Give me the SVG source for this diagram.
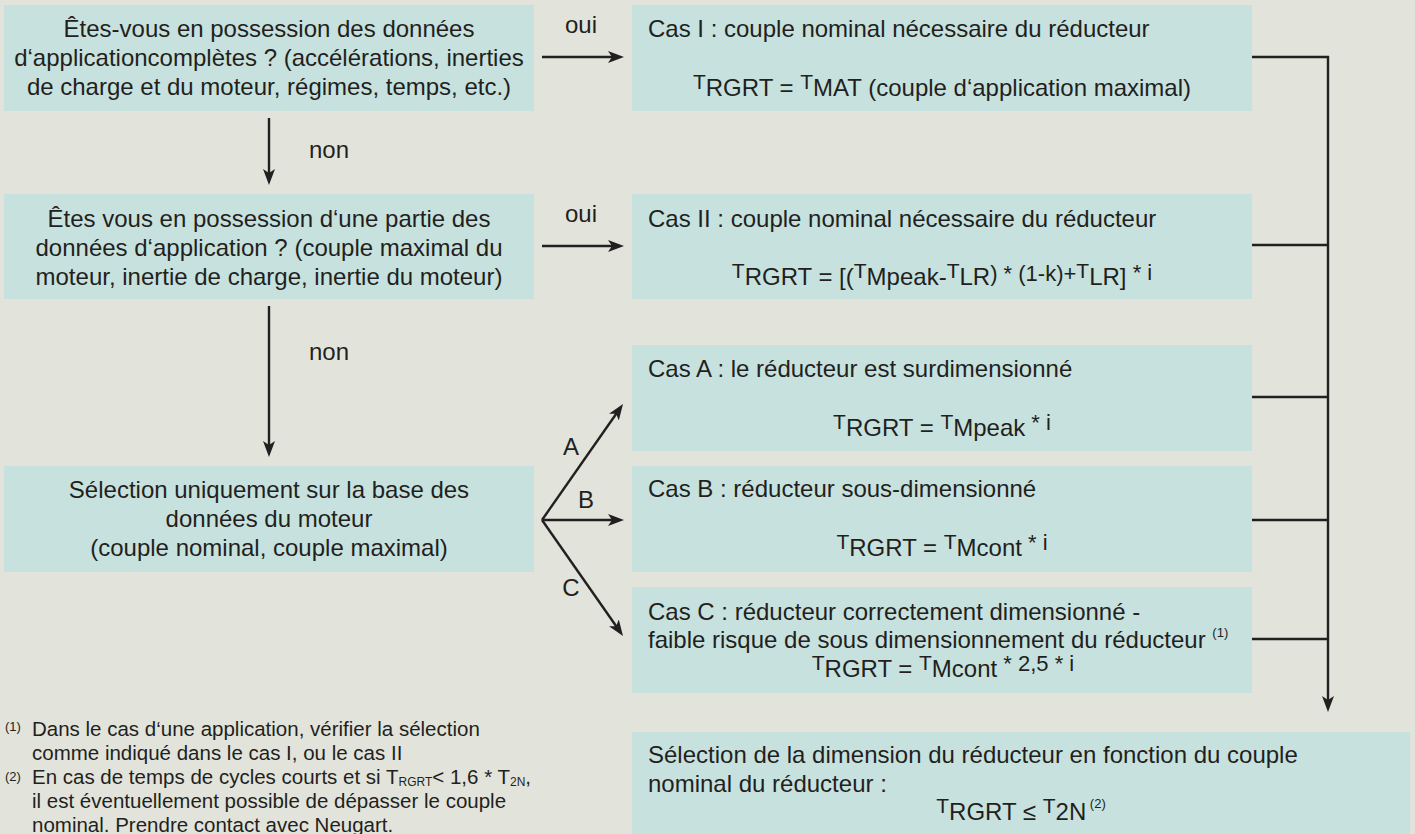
<svg xmlns="http://www.w3.org/2000/svg" width="1415" height="834" viewBox="0 0 1415 834">
<defs>
<style>
text{font-family:"Liberation Sans",Arial,Helvetica,sans-serif;fill:#231f20;font-size:24px}
.c{text-anchor:middle}
.box{fill:#c7e2de}
.ln{stroke:#231f20;stroke-width:2.4;fill:none}
.arr{marker-end:url(#ah)}
.tt{font-size:21px}
.op{font-size:22px}
.fn{font-size:20.5px}
.sup{font-size:13px}
.sub{font-size:12px}
</style>
<marker id="ah" viewBox="0 0 16 12" refX="6" refY="6" markerWidth="16" markerHeight="12" markerUnits="userSpaceOnUse" orient="auto">
<path d="M0,0 L16,6 L0,12 L4,6 Z" fill="#231f20"/>
</marker>
</defs>
<rect x="0" y="0" width="1415" height="834" fill="#e2e4db"/>

<g id="q1">
<rect class="box" x="4" y="5" width="530" height="106"/>
<text class="c" x="269" y="37">Êtes-vous en possession des données</text>
<text class="c" x="269" y="66">d‘applicationcomplètes ? (accélérations, inerties</text>
<text class="c" x="269" y="95">de charge et du moteur, régimes, temps, etc.)</text>
</g>

<g id="q2">
<rect class="box" x="4" y="194" width="530" height="105"/>
<text class="c" x="269" y="227">Êtes vous en possession d‘une partie des</text>
<text class="c" x="269" y="256">données d‘application ? (couple maximal du</text>
<text class="c" x="269" y="285">moteur, inertie de charge, inertie du moteur)</text>
</g>

<g id="q3">
<rect class="box" x="4" y="466" width="530" height="106"/>
<text class="c" x="269" y="498">Sélection uniquement sur la base des</text>
<text class="c" x="269" y="527">données du moteur</text>
<text class="c" x="269" y="556">(couple nominal, couple maximal)</text>
</g>

<g id="casI">
<rect class="box" x="632" y="5" width="620" height="106"/>
<text x="648" y="37">Cas I : couple nominal nécessaire du réducteur</text>
<text class="c" x="942" y="96"><tspan class="tt" dy="-7">T</tspan><tspan dy="7">RGRT = </tspan><tspan class="tt" dy="-7">T</tspan><tspan dy="7">MAT (couple d‘application maximal)</tspan></text>
</g>

<g id="casII">
<rect class="box" x="632" y="194" width="620" height="105"/>
<text x="648" y="227">Cas II : couple nominal nécessaire du réducteur</text>
<text class="c" x="942" y="285"><tspan class="tt" dy="-7">T</tspan><tspan dy="7">RGRT = [(</tspan><tspan class="tt" dy="-7">T</tspan><tspan dy="7">Mpeak-</tspan><tspan class="tt" dy="-7">T</tspan><tspan dy="7">LR</tspan><tspan class="op" dy="-4">) * (1-k)+</tspan><tspan class="tt" dy="-3">T</tspan><tspan dy="7">LR]</tspan><tspan class="op" dy="-5"> * i</tspan></text>
</g>

<g id="casA">
<rect class="box" x="632" y="345" width="620" height="106"/>
<text x="648" y="377">Cas A : le réducteur est surdimensionné</text>
<text class="c" x="942" y="436"><tspan class="tt" dy="-7">T</tspan><tspan dy="7">RGRT = </tspan><tspan class="tt" dy="-7">T</tspan><tspan dy="7">Mpeak</tspan><tspan class="op" dy="-6"> * i</tspan></text>
</g>

<g id="casB">
<rect class="box" x="632" y="466" width="620" height="106"/>
<text x="648" y="497">Cas B : réducteur sous-dimensionné</text>
<text class="c" x="942" y="556"><tspan class="tt" dy="-7">T</tspan><tspan dy="7">RGRT = </tspan><tspan class="tt" dy="-7">T</tspan><tspan dy="7">Mcont</tspan><tspan class="op" dy="-6"> * i</tspan></text>
</g>

<g id="casC">
<rect class="box" x="632" y="587" width="620" height="106"/>
<text x="648" y="620">Cas C : réducteur correctement dimensionné -</text>
<text x="648" y="648">faible risque de sous dimensionnement du réducteur <tspan class="sup" dy="-11">(1)</tspan></text>
<text class="c" x="943" y="677"><tspan class="tt" dy="-7">T</tspan><tspan dy="7">RGRT = </tspan><tspan class="tt" dy="-7">T</tspan><tspan dy="7">Mcont</tspan><tspan class="op" dy="-6"> * 2,5 * i</tspan></text>
</g>

<g id="result">
<rect class="box" x="632" y="732" width="778" height="102"/>
<text x="648" y="763">Sélection de la dimension du réducteur en fonction du couple</text>
<text x="648" y="792">nominal du réducteur :</text>
<text class="c" x="1021" y="820"><tspan class="tt" dy="-7">T</tspan><tspan dy="7">RGRT ≤ </tspan><tspan class="tt" dy="-7">T</tspan><tspan dy="7">2N</tspan><tspan class="sup" dy="-12"> (2)</tspan></text>
</g>

<g id="connectors">
<line class="ln arr" x1="542" y1="57" x2="614" y2="57"/>
<line class="ln arr" x1="542" y1="246" x2="614" y2="246"/>
<line class="ln arr" x1="269" y1="118" x2="269" y2="175"/>
<line class="ln arr" x1="269" y1="306" x2="269" y2="447"/>
<line class="ln arr" x1="542" y1="520" x2="617.3" y2="412.2"/>
<line class="ln arr" x1="542" y1="520" x2="614" y2="520"/>
<line class="ln arr" x1="542" y1="520" x2="617.3" y2="627.8"/>
<line class="ln" x1="1252" y1="57" x2="1329" y2="57"/>
<line class="ln" x1="1252" y1="245" x2="1328" y2="245"/>
<line class="ln" x1="1252" y1="397" x2="1328" y2="397"/>
<line class="ln" x1="1252" y1="520" x2="1328" y2="520"/>
<line class="ln" x1="1252" y1="639" x2="1328" y2="639"/>
<line class="ln arr" x1="1328" y1="56" x2="1328" y2="702"/>
<text class="c" x="581" y="33">oui</text>
<text class="c" x="581" y="222">oui</text>
<text class="c" x="329" y="158">non</text>
<text class="c" x="329" y="360">non</text>
<text class="c" x="571" y="455">A</text>
<text class="c" x="586" y="508">B</text>
<text class="c" x="571" y="596">C</text>
</g>

<g id="footnotes">
<text class="sup" x="5" y="731">(1)</text>
<text class="fn" x="32" y="736">Dans le cas d‘une application, vérifier la sélection</text>
<text class="fn" x="32" y="760">comme indiqué dans le cas I, ou le cas II</text>
<text class="sup" x="5" y="781">(2)</text>
<text class="fn" x="32" y="784">En cas de temps de cycles courts et si T<tspan class="sub" dy="2">RGRT</tspan><tspan dy="-2">&lt; 1,6 * T</tspan><tspan class="sub" dy="2">2N</tspan><tspan dy="-2">,</tspan></text>
<text class="fn" x="32" y="808">il est éventuellement possible de dépasser le couple</text>
<text class="fn" x="32" y="832">nominal. Prendre contact avec Neugart.</text>
</g>
</svg>
